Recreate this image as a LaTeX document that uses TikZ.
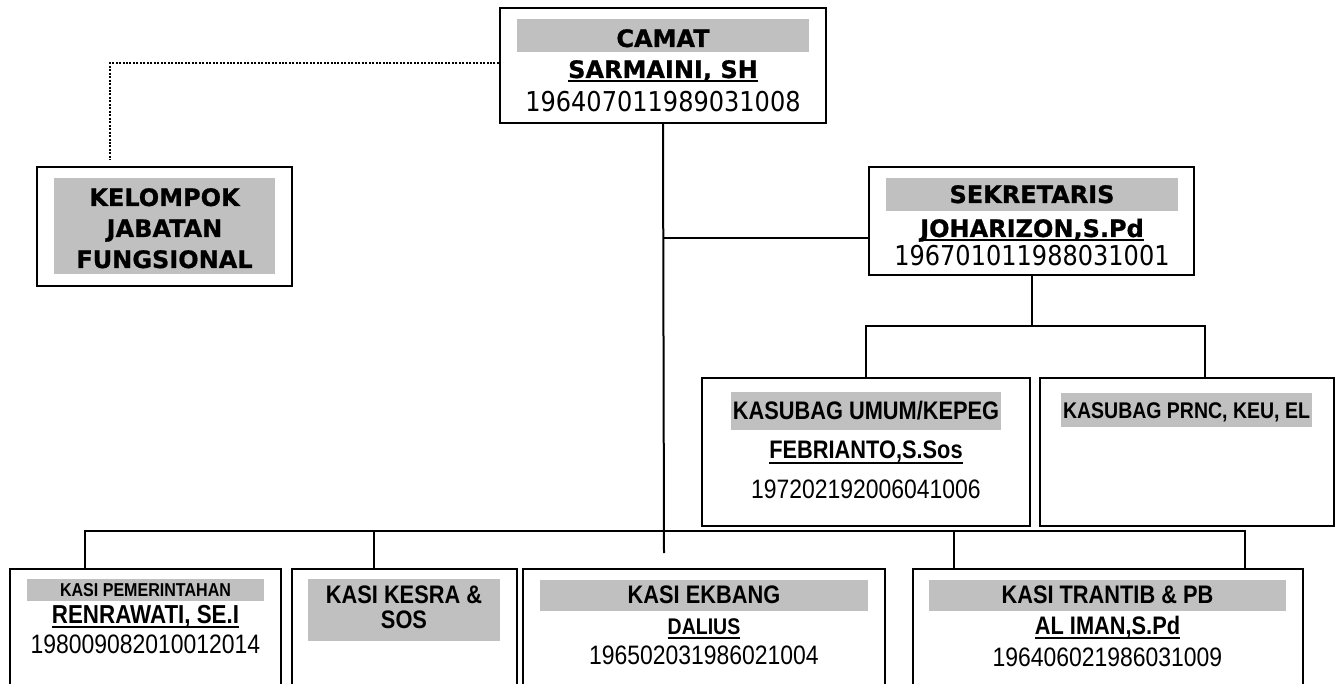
\documentclass[tikz,border=0pt]{standalone}
\usepackage{fontspec}
\setmainfont{DejaVu Sans}[BoldFeatures={FakeBold=0.8}]
\newfontfamily\nipfont[FakeStretch=0.88]{DejaVu Sans}
\newfontfamily\narrowfont[FakeStretch=0.86]{Liberation Sans}
\usetikzlibrary{fit}

\definecolor{bandgray}{HTML}{C0C0C0}
\newsavebox\ulbox
\newcommand{\ulname}[2][-3pt]{\sbox\ulbox{#2}\usebox\ulbox\hspace{-\wd\ulbox}\rule[#1]{\wd\ulbox}{1.5pt}}

\begin{document}
\begin{tikzpicture}[
  x=0.75pt, y=-0.75pt,
  box/.style={draw, line width=1.6pt, inner sep=0pt},
  band/.style={fill=bandgray, inner sep=0pt},
  conn/.style={line width=1.5pt},
  dots/.style={line width=1.6pt, dash pattern=on 1.5pt off 1.1pt},
  txt/.style={inner sep=0pt, anchor=base},
  toptitle/.style={txt, font=\fontsize{18}{20}\selectfont\bfseries},
  topnip/.style={txt, font=\nipfont\fontsize{20.5}{22}\selectfont},
  lowtitle/.style={txt, font=\narrowfont\fontsize{19}{21}\selectfont\bfseries},
  lownip/.style={txt, font=\narrowfont\fontsize{20}{22}\selectfont},
]
  \useasboundingbox (0,0) rectangle (1336,684);
  \clip (0,0) rectangle (1336,684);

  % camat
  \node[box, fit={(500,8) (826,123)}]   (camat) {};
  \node[band, fit={(517,19) (809,52)}]  (camatband) {};
  \node[toptitle] (camatt)   at (663,47)  {CAMAT};
  \node[toptitle] (camatn)   at (663,78)  {\ulname{SARMAINI, SH}};
  \node[topnip]   (camatnip) at (663,112) {196407011989031008};

  % kelompok jabatan fungsional
  \node[box, fit={(37,167) (292,286)}]  (jf) {};
  \node[band, fit={(54,178) (275,274)}] (jfband) {};
  \node[toptitle] (jf1) at (164.5,206) {KELOMPOK};
  \node[toptitle] (jf2) at (164.5,237) {JABATAN};
  \node[toptitle] (jf3) at (164.5,268) {FUNGSIONAL};

  % sekretaris
  \node[box, fit={(869,167) (1194,275)}]  (sekre) {};
  \node[band, fit={(886,178) (1178,211)}] (sekreband) {};
  \node[toptitle] (sekret)   at (1032,203) {SEKRETARIS};
  \node[toptitle] (sekren)   at (1032,237) {\ulname{JOHARIZON,S.Pd}};
  \node[topnip]   (sekrenip) at (1032,266) {196701011988031001};

  % kasubag
  \node[box, fit={(702,378) (1030,526)}]  (umum) {};
  \node[band, fit={(731,392) (1001,430)}] (umumband) {};
  \node[lowtitle] (umumt)   at (866,420) {KASUBAG UMUM/KEPEG};
  \node[lowtitle] (umumn)   at (866,459) {\ulname[-4pt]{FEBRIANTO,S.Sos}};
  \node[lownip]   (umumnip) at (866,498) {197202192006041006};

  \node[box, fit={(1040,378) (1334,526)}] (prnc) {};
  \node[band, fit={(1061,393) (1312,427)}] (prncband) {};
  \node[lowtitle, font=\narrowfont\fontsize{17}{19}\selectfont\bfseries]
        (prnct) at (1186.5,419) {KASUBAG PRNC, KEU, EL};

  % kasi
  \node[box, fit={(10,569) (281,700)}]   (pem) {};
  \node[band, fit={(27,579) (264,601)}]  (pemband) {};
  \node[lowtitle, font=\narrowfont\fontsize{14}{16}\selectfont\bfseries]
        (pemt) at (145.5,596) {KASI PEMERINTAHAN};
  \node[lowtitle, font=\narrowfont\fontsize{19.5}{21}\selectfont\bfseries]
        (pemn) at (145.5,623) {\ulname[-4pt]{RENRAWATI, SE.I}};
  \node[lownip] (pemnip) at (145.5,653) {198009082010012014};

  \node[box, fit={(292,569) (517,700)}]  (kesra) {};
  \node[band, fit={(308,579) (500,641)}] (kesraband) {};
  \node[lowtitle] (kesra1) at (404,603) {KASI KESRA \&};
  \node[lowtitle] (kesra2) at (404,628) {SOS};

  \node[box, fit={(523,569) (885,700)}]  (ekbang) {};
  \node[band, fit={(540,580) (868,611)}] (ekbangband) {};
  \node[lowtitle] (ekbangt) at (704,603) {KASI EKBANG};
  \node[lowtitle, font=\narrowfont\fontsize{17}{19}\selectfont\bfseries]
        (ekbangn) at (704,634) {\ulname[-4pt]{DALIUS}};
  \node[lownip] (ekbangnip) at (704,664) {196502031986021004};

  \node[box, fit={(913,569) (1303,700)}]  (trantib) {};
  \node[band, fit={(929,580) (1286,611)}] (trantibband) {};
  \node[lowtitle] (trantibt) at (1107.5,603) {KASI TRANTIB \& PB};
  \node[lowtitle] (trantibn) at (1107.5,634) {\ulname[-4pt]{AL IMAN,S.Pd}};
  \node[lownip]   (trantibnip) at (1107.5,666) {196406021986031009};

  % connectors
  \coordinate (trunk)     at (664,553);
  \coordinate (sekrejoin) at (869,238);
  \coordinate (jftop)     at (110,160);
  \coordinate (sbl) at (866,326);
  \coordinate (sbr) at (1205,326);
  \coordinate (kl)  at (85,531);
  \coordinate (kr)  at (1245,531);
  \coordinate (dk)  at (374,531);
  \coordinate (dt)  at (954,531);

  \draw[conn] (camat.south) -- (trunk);
  \draw[conn] (sekrejoin) -- (sekrejoin -| trunk);
  \draw[dots] ([yshift=1.9pt]camat.west) -| (jftop);
  \draw[conn] (sekre.south) -- (sekre.south |- sbl);
  \draw[conn] (umum.north) -- (sbl) -- (sbr) -- (sbr |- prnc.north);
  \draw[conn] (kl |- pem.north) -- (kl) -- (kr) -- (kr |- trantib.north);
  \draw[conn] (dk) -- (dk |- kesra.north);
  \draw[conn] (dt) -- (dt |- trantib.north);
\end{tikzpicture}
\end{document}
